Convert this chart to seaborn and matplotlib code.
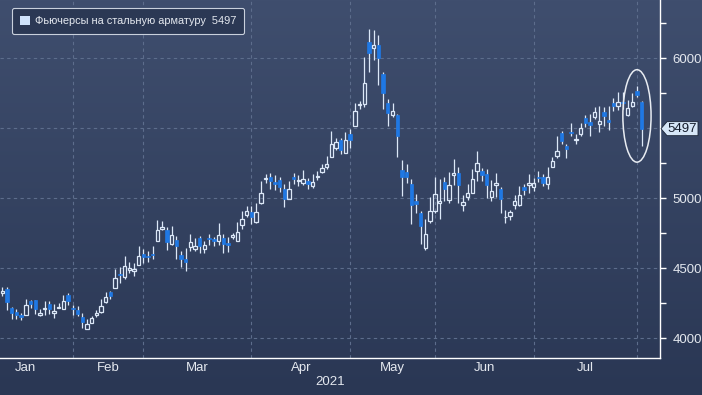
import numpy as np
import pandas as pd
import matplotlib
matplotlib.use("Agg")
import matplotlib.pyplot as plt
import seaborn as sns
from matplotlib import font_manager
from matplotlib.patches import Ellipse, Polygon, Patch, Rectangle
from matplotlib.transforms import IdentityTransform
from matplotlib.colors import LinearSegmentedColormap

# ---------------- data ----------------
opens = [4320, 4355, 4219, 4188, 4169, 4169, 4267, 4274, 4169, 4209,
         4245, 4178, 4214, 4212, 4312, 4216, 4202, 4155, 4069, 4112,
         4169, 4188, 4259, 4331, 4362, 4459, 4440, 4488, 4483, 4526,
         4602, 4588, 4602, 4697, 4778, 4774, 4671, 4702, 4593, 4569,
         4655, 4635, 4716, 4635, 4716, 4707, 4693, 4716, 4683, 4721,
         4697, 4807, 4878, 4902, 4831, 4964, 5135, 5149, 5116, 5130,
         5068, 4993, 5153, 5120, 5111, 5120, 5087, 5154, 5191, 5224,
         5295, 5362, 5414, 5324, 5461, 5513, 5667, 5674, 6114, 6076,
         6095, 5891, 5683, 5593, 5593, 5201, 5191, 5101, 4983, 4898,
         4647, 4837, 4912, 4969, 5116, 4988, 5164, 5178, 4950, 5007,
         5040, 5193, 5197, 5174, 5007, 5093, 5064, 4864, 4874, 4950,
         4954, 5078, 5097, 5078, 5154, 5154, 5101, 5226, 5303, 5466,
         5370, 5475, 5420, 5456, 5571, 5547, 5581, 5528, 5614, 5557,
         5677, 5662, 5686, 5595, 5662, 5768, 5686]
highs = [4365, 4364, 4226, 4207, 4183, 4281, 4274, 4274, 4207, 4264,
         4264, 4243, 4255, 4309, 4321, 4236, 4231, 4178, 4136, 4159,
         4202, 4283, 4331, 4336, 4497, 4507, 4588, 4545, 4536, 4659,
         4640, 4621, 4659, 4845, 4840, 4797, 4802, 4731, 4626, 4645,
         4745, 4716, 4731, 4697, 4745, 4721, 4821, 4745, 4721, 4750,
         4831, 4912, 4945, 4945, 4969, 5121, 5173, 5177, 5163, 5153,
         5101, 5125, 5177, 5168, 5201, 5144, 5172, 5196, 5243, 5300,
         5480, 5428, 5433, 5475, 5494, 5678, 5697, 6010, 6208, 6199,
         6166, 5905, 5712, 5683, 5603, 5276, 5243, 5135, 5031, 4907,
         4851, 5007, 5149, 5135, 5153, 5191, 5278, 5221, 5021, 5102,
         5212, 5335, 5216, 5207, 5131, 5178, 5078, 4916, 4916, 5021,
         5088, 5102, 5174, 5145, 5197, 5173, 5221, 5298, 5442, 5480,
         5389, 5538, 5456, 5538, 5595, 5605, 5653, 5658, 5653, 5658,
         5715, 5758, 5758, 5701, 5754, 5801, 5696]
lows = [4300, 4202, 4140, 4140, 4131, 4169, 4219, 4174, 4159, 4169,
        4174, 4147, 4214, 4212, 4238, 4169, 4159, 4076, 4069, 4112,
        4150, 4183, 4255, 4283, 4362, 4398, 4421, 4464, 4445, 4526,
        4535, 4547, 4564, 4697, 4774, 4631, 4666, 4569, 4512, 4478,
        4626, 4621, 4607, 4607, 4669, 4659, 4669, 4612, 4616, 4712,
        4693, 4783, 4869, 4816, 4826, 4959, 5112, 5064, 5059, 5045,
        4941, 4993, 5101, 5087, 5092, 5064, 5073, 5130, 5177, 5210,
        5295, 5343, 5314, 5324, 5357, 5513, 5641, 5650, 5905, 5991,
        5806, 5641, 5513, 5579, 5295, 5016, 5106, 4813, 4898, 4671,
        4633, 4822, 4893, 4855, 4983, 4969, 5097, 4964, 4912, 4988,
        5035, 5121, 5121, 5002, 4978, 5012, 4893, 4826, 4845, 4921,
        4945, 5021, 5035, 5054, 5116, 5087, 5068, 5221, 5288, 5389,
        5288, 5442, 5384, 5447, 5509, 5447, 5567, 5475, 5514, 5490,
        5624, 5629, 5634, 5586, 5653, 5725, 5375]
closes = [4340, 4262, 4178, 4169, 4155, 4236, 4248, 4207, 4183, 4212,
          4212, 4193, 4224, 4264, 4269, 4207, 4174, 4119, 4103, 4145,
          4178, 4231, 4297, 4302, 4431, 4452, 4514, 4502, 4497, 4588,
          4583, 4578, 4593, 4774, 4797, 4690, 4735, 4659, 4569, 4545,
          4688, 4659, 4659, 4664, 4707, 4693, 4735, 4674, 4669, 4735,
          4759, 4850, 4907, 4864, 4902, 5040, 5145, 5125, 5101, 5082,
          4993, 5064, 5134, 5130, 5134, 5101, 5116, 5158, 5215, 5248,
          5385, 5399, 5343, 5414, 5414, 5622, 5674, 5820, 6038, 6095,
          6000, 5754, 5612, 5626, 5442, 5149, 5153, 4955, 4960, 4803,
          4747, 4907, 5031, 4979, 5064, 5097, 5178, 5093, 4973, 5036,
          5135, 5250, 5164, 5093, 5055, 5112, 4993, 4869, 4902, 4978,
          5021, 5059, 5112, 5106, 5145, 5106, 5154, 5264, 5341, 5408,
          5351, 5466, 5425, 5499, 5538, 5523, 5614, 5552, 5586, 5547,
          5662, 5691, 5682, 5648, 5686, 5734, 5497]

month_labels = ["Jan", "Feb", "Mar", "Apr", "May", "Jun", "Jul"]
month_start_idx = [-5, 15, 30, 53, 74, 92, 113, 135]   # trading-day index of 1st session
year_label = "2021"
series_label = "Фьючерсы на стальную арматуру"
last_value = 5497
y_ticks = [4000, 4500, 5000, 5500, 6000]

df = pd.DataFrame({"open": opens, "high": highs, "low": lows, "close": closes})
df["idx"] = np.arange(len(df))
df["up"] = df["close"] >= df["open"]

# ---------------- style ----------------
sns.set_theme(style="dark")
names = {f.name for f in font_manager.fontManager.ttflist}
narrow = "Liberation Sans Narrow" if "Liberation Sans Narrow" in names else "Liberation Sans"
plt.rcParams["font.family"] = ["DejaVu Sans"]

TXT = "#e4e8ef"
UP = "#dce8f8"
DOWN = "#1f78e4"
GRID = "#5d6d8c"

fig = plt.figure(figsize=(7.02, 3.95), dpi=100)
bg = fig.add_axes([0, 0, 1, 1], zorder=-10)
cmap = LinearSegmentedColormap.from_list("bg", ["#3f4e6e", "#2a3754"])
bg.imshow(np.linspace(0, 1, 256).reshape(-1, 1), aspect="auto", cmap=cmap,
          extent=[0, 1, 0, 1], origin="upper")
bg.set_axis_off()

ax = fig.add_axes([0, 37 / 395, 660 / 702, 358 / 395])
ax.patch.set_alpha(0)

# ---------------- candles ----------------
w = 0.72
minh = 6
for _, r in df.iterrows():
    lo_b, hi_b = min(r.open, r.close), max(r.open, r.close)
    if hi_b - lo_b < minh:
        mid = (hi_b + lo_b) / 2
        lo_b, hi_b = mid - minh / 2, mid + minh / 2
    if r.up:
        ax.vlines(r.idx, r.low, lo_b, color=UP, lw=0.9, zorder=3)
        ax.vlines(r.idx, hi_b, r.high, color=UP, lw=0.9, zorder=3)
        ax.add_patch(Rectangle((r.idx - w / 2, lo_b), w, hi_b - lo_b,
                               facecolor="none", edgecolor=UP, lw=0.9, zorder=4))
    else:
        ax.vlines(r.idx, r.low, r.high, color=UP, lw=0.9, zorder=3)
        ax.add_patch(Rectangle((r.idx - w / 2, lo_b), w, hi_b - lo_b,
                               facecolor=DOWN, edgecolor=DOWN, lw=0.5, zorder=4))

# highlight ellipse around the last sessions
last2 = df.iloc[-2:]
ey_lo, ey_hi = last2["low"].min(), last2["high"].max()
ax.add_patch(Ellipse((len(df) - 2, (ey_lo + ey_hi) / 2), 6.0, (ey_hi - ey_lo) * 1.55,
                     facecolor="none", edgecolor="#e8ecf2", lw=1.1, zorder=5))

# ---------------- axes ----------------
ax.set_xlim(-0.49, 139.9)
ax.set_ylim(3859, 6416)
ax.yaxis.tick_right()
ax.set_yticks(y_ticks)
ax.set_yticks(np.arange(4000, 6300, 250), minor=True)
# the label under the last-price tag is hidden by the tag
ax.set_yticklabels(["" if abs(v - last_value) < 60 else str(v) for v in y_ticks])
ax.set_xticks(month_start_idx[1:])
ax.set_xticklabels([""] * (len(month_start_idx) - 1))
mids = [(a + b) / 2 for a, b in zip(month_start_idx[:-1], month_start_idx[1:])]
ax.set_xticks(mids, minor=True)
ax.set_xticklabels(month_labels, minor=True)
ax.tick_params(axis="x", which="major", length=4, width=1, color="white", direction="out")
ax.tick_params(axis="x", which="minor", length=0, pad=3, labelsize=9.5, labelcolor=TXT)
ax.tick_params(axis="y", which="both", length=4, width=1, color="white", direction="out",
               right=True, left=False, labelright=True, labelleft=False)
ax.tick_params(axis="y", which="major", pad=5, labelsize=9.5, labelcolor=TXT)
for lab in ax.get_xticklabels(minor=True) + ax.get_yticklabels():
    lab.set_fontfamily(narrow)
ax.set_xlabel(year_label, color=TXT, fontsize=9.5, labelpad=1, fontfamily=narrow)

ax.grid(True, which="major", color=GRID, linestyle=(0, (3, 3)), lw=0.8)
ax.set_axisbelow(True)
for s in ["left", "top"]:
    ax.spines[s].set_visible(False)
for s in ["right", "bottom"]:
    ax.spines[s].set_visible(True)
    ax.spines[s].set_color("white")
    ax.spines[s].set_linewidth(1)

# legend
leg = ax.legend(handles=[Patch(facecolor="#cfe2fb", edgecolor="none")],
                labels=[f"{series_label}  {last_value}"],
                loc="upper left", bbox_to_anchor=(12 / 660, 1 - 8 / 358), borderaxespad=0,
                frameon=True, fancybox=True, facecolor="#2b3854", edgecolor="#c9d0dc",
                framealpha=1, handlelength=0.95, handleheight=0.95, handletextpad=0.45,
                borderpad=0.7, prop={"family": "Liberation Sans", "size": 7.9})
for t in leg.get_texts():
    t.set_color(TXT)
leg.get_frame().set_linewidth(0.8)

# last price tag
fig.canvas.draw()
ty = ax.transData.transform((0, last_value))[1]
tx = ax.transAxes.transform((1, 0))[0]
h = 7
tag = Polygon([(tx + 1, ty), (tx + 7, ty + h), (tx + 38, ty + h), (tx + 38, ty - h), (tx + 7, ty - h)],
              closed=True, facecolor="#d6e6f7", edgecolor="#1b2436", lw=0.6,
              transform=IdentityTransform(), clip_on=False, zorder=20)
fig.add_artist(tag)
fig.text((tx + 22.5) / 702, ty / 395, str(last_value), ha="center", va="center",
         color="#141c2c", fontsize=9.5, fontfamily=narrow, zorder=21)

fig.savefig("out.png", dpi=100)
